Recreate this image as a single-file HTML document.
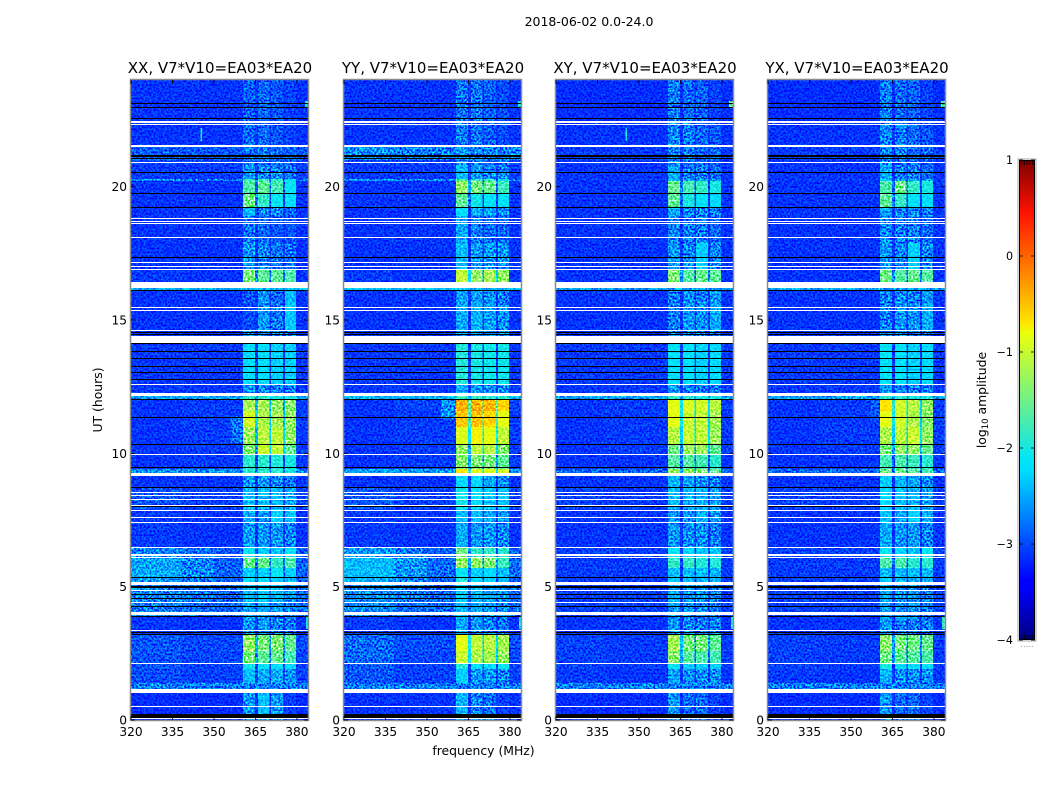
<!DOCTYPE html>
<html>
<head>
<meta charset="utf-8">
<title>2018-06-02 0.0-24.0</title>
<style>
html,body{margin:0;padding:0;background:#fff;}
svg{display:block;}
text{font-family:"DejaVu Sans","Liberation Sans",sans-serif;fill:#000;}
.grain{mix-blend-mode:overlay;}
</style>
</head>
<body>
<svg id="chart" xmlns="http://www.w3.org/2000/svg" width="1050" height="800" viewBox="0 0 1050 800">
<defs>
<filter id="grain" x="0" y="0" width="100%" height="100%" color-interpolation-filters="sRGB">
<feTurbulence type="fractalNoise" baseFrequency="0.52" numOctaves="1" seed="7"/>
<feColorMatrix type="matrix" values="3 0 0 0 -1  3 0 0 0 -1  3 0 0 0 -1  0 0 0 0 1"/>
</filter>
</defs>
</svg>
<script>
// ---- labels and ticks ----
const panelTitles = ["XX, V7*V10=EA03*EA20","YY, V7*V10=EA03*EA20","XY, V7*V10=EA03*EA20","YX, V7*V10=EA03*EA20"];
const freqTicks = [320,335,350,365,380];
const timeTicks = [0,5,10,15,20];
const colorTicks = [1,0,-1,-2,-3,-4];

// ---- frequency bands (MHz) and time rows (hours) ----
const freqDomain = [320,384];
const timeDomain = [0,24];
const colorDomain = [-4,1];
const spwBands = [[360.5,364.8],[365.9,370],[370.6,375],[375.7,379.6]];
const bgSplit = 338;
const rowStarts = [0,.24,1.16,1.4,1.9,2.1,2.6,3.2,3.9,4.4,5.06,5.35,5.7,6.1,6.45,7.4,7.9,8.7,9.26,9.4,9.95,10.35,11,11.6,12,12.26,12.6,14.1,14.6,15.6,16.1,16.4,16.9,17.9,18.9,19.2,19.75,20.2,20.3,20.8,21,21.55,22.4];

// ---- log10 amplitude per row: [bgLeft, bgRight, spw1, spw2, spw3, spw4] ----
const xxLevels = [
[-3.15,-3.15,-2.7,-2.45,-2.7,-3.05],[-3.15,-3.15,-2.6,-2.4,-2.6,-3.05],[-2.75,-2.75,-2.75,-2.75,-2.75,-2.75],[-3,-3.05,-2.4,-2.5,-2.5,-2.6],
[-2.98,-3.05,-2.05,-2.15,-2.25,-2.25],[-2.97,-3.03,-1.45,-1.6,-1.55,-1.75],[-2.95,-3.02,-1.3,-1.45,-1.4,-1.55],[-3.1,-3.12,-2.6,-2.6,-2.7,-2.8],
[-2.75,-2.85,-2.5,-2.5,-2.6,-2.7],[-2.72,-2.85,-2.4,-2.3,-2.4,-2.6],[-2.6,-2.9,-2.2,-2.2,-2.3,-2.4],[-2.5,-2.88,-2.3,-2.3,-2.1,-2.3],
[-2.55,-2.9,-1.55,-1.55,-1.85,-1.7],[-2.7,-2.95,-2.1,-2.3,-2.4,-2.1],[-3.08,-3.12,-2.6,-2.6,-2.6,-2.7],[-3.08,-3.12,-2.5,-2.6,-2.3,-2.4],
[-2.95,-3.05,-2.4,-2.4,-2.4,-2.5],[-3.12,-3.12,-2.6,-2.6,-2.7,-2.8],[-2.62,-2.65,-1.9,-1.9,-1.9,-2],[-3.12,-3.08,-1.9,-1.9,-1.95,-2],
[-3.12,-3.08,-1.4,-1,-1.05,-1.55],[-3.12,-3.08,-1.25,-1.1,-1.05,-1.3],[-3.12,-3.08,-.95,-1.15,-1.2,-1.3],[-3.12,-3.08,-1.2,-1.2,-1.3,-1.35],
[-2.55,-2.55,-1.9,-1.9,-2,-2],[-3.1,-3.1,-2.6,-2.7,-2.75,-2.75],[-3.1,-3.1,-2.2,-2.2,-2.3,-2.3],[-3.1,-3.1,-2.65,-2.65,-2.75,-2.75],
[-3.12,-3.12,-3,-2.6,-2.75,-2.35],[-3.12,-3.12,-2.95,-2.65,-2.85,-2.4],[-2.45,-2.45,-2.45,-2.45,-2.45,-2.45],[-3.08,-3.12,-1.45,-1.6,-1.6,-1.7],
[-3.12,-3.12,-2.6,-2.7,-2.8,-2.8],[-3.12,-3.12,-2.8,-2.85,-2.95,-2.95],[-3.12,-3.12,-2.4,-2.7,-2.7,-2.85],[-3.12,-3.12,-1.5,-1.85,-2.1,-2.2],
[-3.12,-3.12,-1.7,-1.6,-1.75,-2.1],[-2.65,-2.75,-1.8,-1.8,-1.9,-2.2],[-3.08,-3.08,-2.6,-2.7,-2.7,-2.8],[-3.05,-3.05,-2.8,-2.85,-2.85,-2.95],
[-2.9,-2.95,-2.8,-2.8,-2.85,-2.85],[-3.12,-3.12,-2.85,-2.85,-2.95,-3.05],[-3.12,-3.12,-2.9,-2.85,-2.95,-3.05]];
const yyLevels = [
[-3.12,-3.12,-2.5,-2.75,-2.8,-3.05],[-3.12,-3.12,-2.45,-2.7,-2.8,-3.05],[-2.75,-2.75,-2.75,-2.75,-2.75,-2.75],[-2.95,-3.05,-2.3,-2.6,-2.6,-2.7],
[-2.92,-3.05,-1.95,-2.15,-2.25,-2.1],[-2.85,-3.02,-1,-1.15,-1.2,-1.3],[-2.85,-3,-.85,-1.05,-1.1,-1.2],[-3.08,-3.12,-2.5,-2.6,-2.7,-2.8],
[-2.7,-2.85,-2.4,-2.5,-2.6,-2.7],[-2.65,-2.85,-2.3,-2.4,-2.5,-2.6],[-2.5,-2.88,-1.95,-2.2,-2.3,-2.4],[-2.4,-2.86,-2.1,-2.3,-2.2,-2.4],
[-2.42,-2.86,-1.3,-1.3,-1.4,-1.8],[-2.6,-2.92,-1.5,-1.85,-1.85,-1.9],[-3.08,-3.12,-2.5,-2.6,-2.6,-2.7],[-3.08,-3.12,-2.4,-2.4,-2.5,-2.6],
[-2.95,-3.05,-2.05,-2.15,-2.35,-2.35],[-3.12,-3.12,-2.25,-2.25,-2.55,-2.65],[-2.55,-2.6,-.7,-.9,-.9,-.95],[-3.12,-3.08,-1.35,-1.4,-1.45,-1.6],
[-3.12,-3.08,-1.3,-1.05,-1.1,-1.4],[-3.12,-3.08,-.9,-.75,-.85,-1.05],[-3.12,-3.08,-.55,-.5,-.6,-.85],[-3.12,-3.05,-.4,-.4,-.45,-.6],
[-2.45,-2.45,-1.8,-1.8,-1.9,-1.9],[-3.1,-3.1,-2.5,-2.6,-2.65,-2.65],[-3.1,-3.1,-1.95,-2,-2.05,-2.05],[-3.1,-3.1,-2.55,-2.55,-2.65,-2.65],
[-3.12,-3.12,-2.5,-2.45,-2.55,-2.65],[-3.12,-3.12,-2.55,-2.55,-2.65,-2.75],[-2.4,-2.4,-2.4,-2.4,-2.4,-2.4],[-3.08,-3.12,-1.05,-1.3,-1.2,-1.3],
[-3.12,-3.12,-2.4,-2.6,-2.6,-2.6],[-3.12,-3.12,-2.5,-2.75,-2.85,-2.85],[-3.12,-3.12,-2.2,-2.5,-2.55,-2.65],[-3.12,-3.12,-1.6,-2.05,-2.15,-2.15],
[-3.12,-3.12,-1.3,-1.45,-1.55,-1.8],[-2.6,-2.7,-1.7,-1.85,-1.85,-2.15],[-3.08,-3.08,-2.4,-2.6,-2.7,-2.7],[-3.05,-3.05,-2.7,-2.75,-2.85,-2.85],
[-2.65,-2.75,-2.6,-2.7,-2.75,-2.75],[-3.12,-3.12,-2.75,-2.8,-2.9,-3],[-3.12,-3.12,-2.8,-2.8,-2.9,-3]];
const xyLevels = [
[-3.15,-3.15,-2.6,-2.85,-2.85,-3.05],[-3.15,-3.15,-2.6,-2.85,-2.85,-3.05],[-2.75,-2.75,-2.75,-2.75,-2.75,-2.75],[-3.08,-3.12,-2.55,-2.65,-2.65,-2.65],
[-3.05,-3.08,-2.1,-2.3,-2.3,-2.3],[-3.05,-3.08,-1.35,-1.65,-1.7,-1.75],[-3.05,-3.08,-1.2,-1.45,-1.45,-1.6],[-3.12,-3.12,-2.6,-2.7,-2.75,-2.75],
[-3.05,-3.05,-2.6,-2.65,-2.65,-2.75],[-3.05,-3.05,-2.5,-2.6,-2.6,-2.7],[-3.08,-3.08,-2.3,-2.4,-2.45,-2.45],[-3.08,-3.08,-2.4,-2.4,-2.4,-2.45],
[-3.08,-3.08,-1.85,-1.85,-1.95,-1.95],[-3.05,-3.05,-2.1,-2.25,-2.35,-2.35],[-3.12,-3.12,-2.6,-2.65,-2.65,-2.75],[-3.12,-3.12,-2.6,-2.65,-2.45,-2.6],
[-3.05,-3.08,-2.4,-2.45,-2.45,-2.55],[-3.12,-3.12,-2.45,-2.55,-2.65,-2.75],[-2.85,-2.85,-1.3,-1.3,-1.4,-1.55],[-3.12,-3.12,-1.65,-1.65,-1.75,-1.9],
[-3.12,-3.08,-1.5,-1.25,-1.25,-1.6],[-3.12,-3.08,-1.1,-1,-1.05,-1.25],[-3.12,-3.08,-.85,-1,-1.05,-1.2],[-3.12,-3.08,-.85,-.9,-.95,-1.1],
[-2.55,-2.55,-1.9,-1.9,-2,-2],[-3.1,-3.1,-2.6,-2.7,-2.75,-2.75],[-3.1,-3.1,-2.15,-2.15,-2.3,-2.25],[-3.1,-3.1,-2.65,-2.65,-2.75,-2.75],
[-3.12,-3.12,-2.75,-2.6,-2.65,-2.5],[-3.12,-3.12,-2.75,-2.65,-2.75,-2.6],[-2.55,-2.55,-2.55,-2.55,-2.55,-2.55],[-3.12,-3.12,-1.4,-1.65,-1.55,-1.6],
[-3.12,-3.12,-2.6,-2.7,-2.3,-2.7],[-3.12,-3.12,-2.7,-2.75,-2.75,-2.85],[-3.12,-3.12,-2.5,-2.7,-2.7,-2.75],[-3.12,-3.12,-1.6,-2,-2.15,-2.25],
[-3.12,-3.12,-1.55,-1.75,-1.85,-2],[-3.08,-3.08,-2.4,-2.5,-2.5,-2.6],[-3.12,-3.12,-2.5,-2.75,-2.75,-2.85],[-3.12,-3.12,-2.7,-2.85,-2.85,-2.95],
[-3.08,-3.08,-2.7,-2.75,-2.85,-2.85],[-3.12,-3.12,-2.7,-2.75,-2.85,-2.95],[-3.15,-3.15,-2.75,-2.85,-2.9,-3.05]];
const yxLevels = [
[-3.15,-3.15,-2.6,-2.85,-2.85,-3.05],[-3.15,-3.15,-2.6,-2.85,-2.85,-3.05],[-2.75,-2.75,-2.75,-2.75,-2.75,-2.75],[-3.08,-3.12,-2.45,-2.65,-2.65,-2.65],
[-3.05,-3.08,-2,-2.2,-2.2,-2.2],[-3.05,-3.08,-1.5,-1.6,-1.65,-1.7],[-3.05,-3.08,-1.35,-1.45,-1.5,-1.55],[-3.12,-3.12,-2.6,-2.7,-2.75,-2.75],
[-3.05,-3.05,-2.6,-2.65,-2.65,-2.75],[-3.05,-3.05,-2.5,-2.6,-2.6,-2.7],[-3.08,-3.08,-2.3,-2.4,-2.45,-2.45],[-3.08,-3.08,-2.4,-2.4,-2.4,-2.45],
[-3.08,-3.08,-1.7,-1.7,-1.9,-1.9],[-3.05,-3.05,-2.1,-2.25,-2.35,-2.1],[-3.12,-3.12,-2.5,-2.6,-2.6,-2.7],[-3.12,-3.12,-2.4,-2.5,-2.3,-2.5],
[-3.05,-3.08,-2.25,-2.35,-2.45,-2.55],[-3.12,-3.12,-2.35,-2.45,-2.55,-2.65],[-2.85,-2.85,-1.5,-1.5,-1.6,-1.75],[-3.12,-3.12,-1.75,-1.7,-1.8,-1.9],
[-3.12,-3.08,-1.45,-1.3,-1.3,-1.55],[-3.12,-3.08,-1.15,-1.05,-1,-1.3],[-3.12,-3.08,-.85,-.95,-1.15,-1.35],[-3.12,-3.08,-.7,-.95,-1.1,-1.3],
[-2.55,-2.55,-1.9,-1.9,-2,-2],[-3.1,-3.1,-2.6,-2.7,-2.75,-2.75],[-3.1,-3.1,-2.15,-2.15,-2.3,-2.25],[-3.1,-3.1,-2.65,-2.65,-2.75,-2.75],
[-3.12,-3.12,-2.75,-2.6,-2.65,-2.5],[-3.12,-3.12,-2.75,-2.65,-2.75,-2.6],[-2.55,-2.55,-2.55,-2.55,-2.55,-2.55],[-3.12,-3.12,-1.5,-1.65,-1.55,-1.65],
[-3.12,-3.12,-2.6,-2.7,-2.3,-2.7],[-3.12,-3.12,-2.7,-2.75,-2.75,-2.85],[-3.12,-3.12,-2.5,-2.7,-2.7,-2.75],[-3.12,-3.12,-1.6,-1.85,-2.15,-2.2],
[-3.12,-3.12,-1.7,-1.5,-1.85,-2],[-3.08,-3.08,-2.4,-2.5,-2.5,-2.6],[-3.12,-3.12,-2.5,-2.75,-2.75,-2.85],[-3.12,-3.12,-2.7,-2.85,-2.85,-2.95],
[-3.08,-3.08,-2.7,-2.75,-2.85,-2.85],[-3.12,-3.12,-2.7,-2.75,-2.85,-2.95],[-3.15,-3.15,-2.75,-2.85,-2.9,-3.05]];
const panelLevels = [xxLevels,yyLevels,xyLevels,yxLevels];

// ---- mid-frequency background (338-350 MHz): [panel, timeStart, timeEnd, level] ----
const bgMidBands = [[0,4.4,5.06,-2.8],[0,5.06,5.35,-2.76],[0,5.35,6.1,-2.7],[0,6.1,6.45,-2.82],[1,4.4,5.06,-2.75],[1,5.06,5.35,-2.68],[1,5.35,6.1,-2.62],[1,6.1,6.45,-2.75]];

// ---- isolated marks: [panel, freqStart, freqEnd, timeStart, timeEnd, level] ----
const rfiMarks = [[0,345.2,345.7,21.7,22.2,-2],[2,345.2,345.7,21.7,22.2,-2],[0,383,384,23,23.2,-1.9],[1,383,384,23,23.2,-2],[2,382.5,384,23,23.2,-1.6],[3,382.5,384,23,23.2,-1.7],[0,383.2,384,3.4,3.85,-2],[1,383.2,384,3.4,3.85,-2],[2,383.2,384,3.4,3.85,-2],[3,383,384,3.4,3.85,-1.8],[0,356,360.5,10.4,11.4,-2.8],[1,355,360.5,11.3,12,-2.65],[3,357,360.5,11.2,12,-2.95]];

// ---- flagged time ranges (hours): no data (white) and zero amplitude (black) ----
const whiteFlags = [[.06,.09],[.47,.51],[1.01,1.16],[2.08,2.12],[3.36,3.39],[3.94,4.05],[4.37,4.41],[4.86,4.89],[5.06,5.16],[6.09,6.13],[6.17,6.24],[6.45,6.49],[7.39,7.43],[7.59,7.63],[7.84,7.875],[8.04,8.08],[8.23,8.27],[8.38,8.42],[8.51,8.55],[9.15,9.26],[9.96,9.99],[12.15,12.26],[12.56,12.6],[14.14,14.4],[14.57,14.61],[15.34,15.375],[15.43,15.47],[16.2,16.41],[16.88,16.91],[16.99,17.02],[17.12,17.16],[18.09,18.13],[18.58,18.62],[18.69,18.73],[18.81,18.84],[20.87,20.91],[21.47,21.56],[22.31,22.35],[22.39,22.46]];
const blackFlags = [[.09,.24],[3.19,3.22],[3.26,3.3],[3.86,3.9],[4.22,4.26],[4.52,4.56],[4.71,4.74],[4.95,5.01],[5.33,5.36],[7.99,8.02],[8.7,8.74],[9.45,9.49],[10.31,10.35],[11.33,11.36],[12,12.04],[12.75,12.79],[13.01,13.05],[13.26,13.29],[13.54,13.58],[13.78,13.82],[14.1,14.14],[14.44,14.47],[14.51,14.55],[16.11,16.14],[17.32,17.36],[19.18,19.22],[19.74,19.78],[20.51,20.55],[21.02,21.06],[21.13,21.19],[22.56,22.59],[22.93,22.97],[23.1,23.14]];

// ---- jet colour map stops: [position, r, g, b] ----
const jetStops = [[0,0,0,127],[.11,0,0,255],[.125,0,0,255],[.35,0,219,255],[.375,0,229,247],[.64,237,255,10],[.66,255,230,0],[.89,255,18,0],[1,127,0,0]];

// ---- layout (not data) ----
const W = 177, TOP = 80, BOTTOM = 720, MID_END = 350;
const panelLeft = [131,344,556,768];
const CB = {x:1019, w:16, top:160, bottom:640};
const svg = document.getElementById('chart');
const NS = 'http://www.w3.org/2000/svg';

function mk(parent, tag, attrs, txt){
  const e = document.createElementNS(NS, tag);
  for (const k in attrs) e.setAttribute(k, attrs[k]);
  if (txt !== undefined) e.textContent = txt;
  parent.appendChild(e);
  return e;
}
function xScale(f, left){ return left + (f - freqDomain[0]) / (freqDomain[1] - freqDomain[0]) * W; }
function yScale(t){ return BOTTOM - (t - timeDomain[0]) / (timeDomain[1] - timeDomain[0]) * (BOTTOM - TOP); }
function cbScale(v){ return CB.bottom - (v - colorDomain[0]) / (colorDomain[1] - colorDomain[0]) * (CB.bottom - CB.top); }
function jet(v){
  const t = Math.max(0, Math.min(1, (v - colorDomain[0]) / (colorDomain[1] - colorDomain[0])));
  for (let i = 1; i < jetStops.length; i++){
    const a = jetStops[i-1], b = jetStops[i];
    if (t <= b[0]){
      const u = (t - a[0]) / ((b[0] - a[0]) || 1);
      return 'rgb(' + [1,2,3].map(function(c){ return Math.round(a[c] + (b[c] - a[c]) * u); }).join(',') + ')';
    }
  }
  return 'rgb(127,0,0)';
}
function fmt(v){ return v < 0 ? '\u2212' + Math.abs(v) : String(v); }
function flagBox(f){
  const y = Math.round(yScale(f[1]));
  const span = yScale(f[0]) - yScale(f[1]);
  return {y:y, h: span < 1.6 ? 1 : Math.round(span)};
}

const defs = svg.querySelector('defs');
panelLeft.forEach(function(left, p){
  const clip = mk(defs, 'clipPath', {id:'clip' + p});
  mk(clip, 'rect', {x:left, y:TOP, width:W, height:BOTTOM - TOP});
});

panelLeft.forEach(function(left, p){
  const name = panelTitles[p].slice(0,2).toLowerCase();
  const g = mk(svg, 'g', {'clip-path':'url(#clip' + p + ')', 'shape-rendering':'crispEdges', style:'isolation:isolate'});
  
  
  mk(g, 'rect', {x:left, y:TOP, width:W, height:BOTTOM - TOP, fill:'#fff'});

  const levels = panelLevels[p];
  rowStarts.forEach(function(start, r){
    const end = r + 1 < rowStarts.length ? rowStarts[r+1] : timeDomain[1];
    const row = levels[r];
    const y = Math.round(yScale(end)), h = Math.round(yScale(start)) - y;
    const cols = [[freqDomain[0], bgSplit, row[0]], [bgSplit, spwBands[0][0], row[1]]];
    spwBands.forEach(function(b, i){
      cols.push([b[0], b[1], row[2+i]]);
      const next = i + 1 < spwBands.length ? spwBands[i+1][0] : freqDomain[1];
      const gap = i + 1 < spwBands.length ? Math.max(row[1], row[2+i] - 1.2) : row[1];
      cols.push([b[1], next, gap]);
    });
    cols.forEach(function(c){
      const x = xScale(c[0], left);
      const cell = mk(g, 'rect', {x:x, y:y, width:xScale(c[1], left) - x, height:h, fill:jet(c[2])});
      
      
    });
  });

  bgMidBands.filter(function(m){ return m[0] === p; }).forEach(function(m){
    const x = xScale(bgSplit, left), y = Math.round(yScale(m[2]));
    const mid = mk(g, 'rect', {x:x, y:y, width:xScale(MID_END, left) - x, height:Math.round(yScale(m[1])) - y, fill:jet(m[3])});
    
    
  });

  rfiMarks.filter(function(m){ return m[0] === p; }).forEach(function(m){
    const x = xScale(m[1], left), y = Math.round(yScale(m[4]));
    const mark = mk(g, 'rect', {x:x, y:y, width:Math.max(1, xScale(m[2], left) - x), height:Math.max(1, Math.round(yScale(m[3])) - y), fill:jet(m[5])});
    
    
  });

  const grain = mk(g, 'rect', {x:left, y:TOP, width:W, height:BOTTOM - TOP, fill:'#808080', filter:'url(#grain)', class:'grain'});
  
  

  whiteFlags.forEach(function(f){
    const box = flagBox(f);
    const band = mk(g, 'rect', {x:left, y:box.y, width:W, height:box.h, fill:'#fff'});
    
    
  });
  blackFlags.forEach(function(f){
    const box = flagBox(f);
    const band = mk(g, 'rect', {x:left, y:box.y, width:W, height:box.h, fill:'#000'});
    
    
  });

  const frame = mk(svg, 'rect', {x:left - .5, y:TOP - .5, width:W + 1, height:BOTTOM - TOP + 1, fill:'none', stroke:'#8c8c8c', 'stroke-width':1.5});
  
  

  freqTicks.forEach(function(f){
    const x = xScale(f, left);
    const t1 = mk(svg, 'line', {x1:x, x2:x, y1:TOP, y2:TOP + 4, stroke:'#000', 'stroke-width':.8});
    
    
    const t2 = mk(svg, 'line', {x1:x, x2:x, y1:BOTTOM, y2:BOTTOM - 4, stroke:'#000', 'stroke-width':.8});
    
    
    const lab = mk(svg, 'text', {x:x, y:736, 'text-anchor':'middle', 'font-size':12.2}, String(f));
    
    
  });
  timeTicks.forEach(function(t){
    const y = yScale(t);
    const t1 = mk(svg, 'line', {x1:left, x2:left + 4, y1:y, y2:y, stroke:'#000', 'stroke-width':.8});
    
    
    const t2 = mk(svg, 'line', {x1:left + W, x2:left + W - 4, y1:y, y2:y, stroke:'#000', 'stroke-width':.8});
    
    
    const lab = mk(svg, 'text', {x:left - 4, y:y + 4.5, 'text-anchor':'end', 'font-size':12.2}, String(t));
    
    
  });
  const title = mk(svg, 'text', {x:left + W / 2 + .5, y:73, 'text-anchor':'middle', 'font-size':15}, panelTitles[p]);
  
  
});

// figure labels
const sup = mk(svg, 'text', {x:589, y:26, 'text-anchor':'middle', 'font-size':12.5}, '2018-06-02 0.0-24.0');


const xl = mk(svg, 'text', {x:483.5, y:755, 'text-anchor':'middle', 'font-size':12.4}, 'frequency (MHz)');


const yl = mk(svg, 'text', {x:102, y:400, 'text-anchor':'middle', 'font-size':12.4, transform:'rotate(-90 102 400)'}, 'UT (hours)');



// colour bar
const cb = mk(svg, 'g', {'shape-rendering':'crispEdges'});


for (let py = CB.top; py < CB.bottom; py += 2){
  const v = colorDomain[1] - (py + 1 - CB.top) / (CB.bottom - CB.top) * (colorDomain[1] - colorDomain[0]);
  const s = mk(cb, 'rect', {x:CB.x, y:py, width:CB.w, height:2, fill:jet(v)});
  
  
}
const cbo = mk(svg, 'rect', {x:CB.x - 1, y:CB.top - 1, width:CB.w + 2, height:CB.bottom - CB.top + 2, fill:'none', stroke:'#a8a8a8', 'stroke-width':1});


const cbf = mk(svg, 'rect', {x:CB.x + .5, y:CB.top + .5, width:CB.w - 1, height:CB.bottom - CB.top - 1, fill:'none', stroke:'#000', 'stroke-width':1});


for (let i = 1; i < 6; i++){
  const x = CB.x + i * CB.w / 6;
  const a = mk(svg, 'line', {x1:x, x2:x, y1:CB.top, y2:CB.top + 5, stroke:'#000', 'stroke-width':.8});
  
  
  const b = mk(svg, 'line', {x1:x, x2:x, y1:CB.bottom, y2:CB.bottom - 5, stroke:'#000', 'stroke-width':.8});
  
  
  const d = mk(svg, 'rect', {x:x - .5, y:CB.bottom + 6, width:1, height:1, fill:'#999'});
  
  
}
colorTicks.forEach(function(v){
  const y = cbScale(v);
  const t1 = mk(svg, 'line', {x1:CB.x, x2:CB.x + 4, y1:y, y2:y, stroke:'#000', 'stroke-width':.8});
  
  
  const t2 = mk(svg, 'line', {x1:CB.x + CB.w, x2:CB.x + CB.w - 4, y1:y, y2:y, stroke:'#000', 'stroke-width':.8});
  
  
  const lab = mk(svg, 'text', {x:CB.x - 6, y:y + 4, 'text-anchor':'end', 'font-size':11.1}, fmt(v));
  
  
});
const cbl = mk(svg, 'text', {x:986, y:400, 'text-anchor':'middle', 'font-size':12.4, transform:'rotate(-90 986 400)'});


mk(cbl, 'tspan', {}, 'log');
mk(cbl, 'tspan', {'font-size':8.5, dy:2}, '10');
mk(cbl, 'tspan', {dy:-2}, ' amplitude');
</script>
</body>
</html>
